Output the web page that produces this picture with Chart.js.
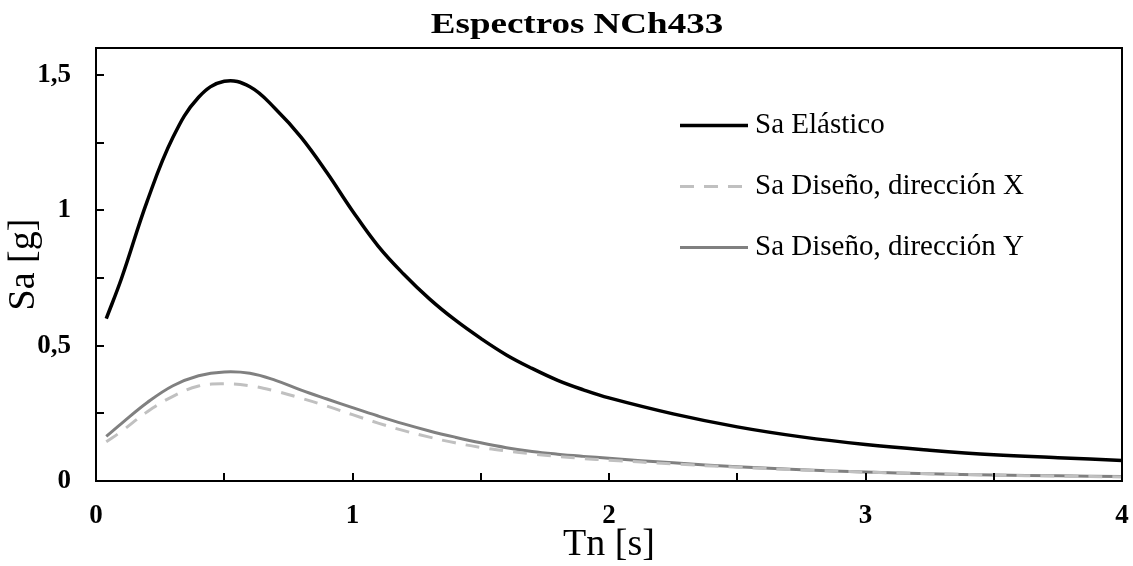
<!DOCTYPE html>
<html>
<head>
<meta charset="utf-8">
<title>Espectros NCh433</title>
<script src="https://cdn.jsdelivr.net/npm/chart.js@4.4.1/dist/chart.umd.min.js"></script>
<style>
  html, body { margin: 0; padding: 0; background: #fff; }
  #wrap { width: 1133px; height: 566px; }
</style>
</head>
<body>
<div id="wrap"><canvas id="chart" width="1133" height="566"></canvas></div>
<script>
// periods [s] and spectral accelerations [g]
const tn = [0.04, 0.1, 0.2, 0.3, 0.4, 0.5, 0.6, 0.7, 0.8, 0.9, 1.0, 1.1, 1.2, 1.3, 1.4, 1.5, 1.6, 1.7, 1.8, 1.9, 2.0, 2.25, 2.5, 2.75, 3.0, 3.25, 3.5, 3.75, 4.0];
const saElastico = [0.60, 0.75, 1.035, 1.27, 1.418, 1.477, 1.457, 1.375, 1.27, 1.14, 0.998, 0.868, 0.764, 0.673, 0.595, 0.527, 0.466, 0.416, 0.372, 0.337, 0.307, 0.248, 0.2, 0.163, 0.135, 0.114, 0.097, 0.086, 0.076];
const saDisenoX = [0.145, 0.184, 0.256, 0.313, 0.351, 0.359, 0.352, 0.332, 0.306, 0.277, 0.245, 0.214, 0.186, 0.162, 0.141, 0.124, 0.111, 0.1, 0.091, 0.083, 0.077, 0.063, 0.051, 0.041, 0.033, 0.027, 0.022, 0.018, 0.015];
const saDisenoY = [0.165, 0.213, 0.29, 0.352, 0.389, 0.403, 0.398, 0.372, 0.336, 0.303, 0.271, 0.24, 0.211, 0.185, 0.162, 0.141, 0.123, 0.109, 0.099, 0.091, 0.084, 0.067, 0.053, 0.042, 0.033, 0.027, 0.022, 0.019, 0.017];

const seriesNames = ["Sa Elástico", "Sa Diseño, dirección X", "Sa Diseño, dirección Y"];
const chartTitle = "Espectros NCh433";
const xTitle = "Tn [s]";
const yTitle = "Sa [g]";

const SERIF = "'Liberation Serif', 'Times New Roman', serif";
const pts = (arr)=>tn.map((t,i)=>({ x:t, y:arr[i] }));
const near = (v, step)=>Math.abs(v/step - Math.round(v/step)) < 1e-6;

// box around the plot + short inward tick marks
const frame = {
  id: "frame",
  afterDatasetsDraw(chart){
    const { ctx, chartArea:a, scales:{ x, y } } = chart;
    ctx.save();
    ctx.strokeStyle = "#000";
    ctx.lineWidth = 2;
    ctx.strokeRect(a.left, a.top, a.right - a.left, a.bottom - a.top);
    ctx.beginPath();
    x.ticks.forEach(t=>{
      const px = Math.round(x.getPixelForValue(t.value));
      ctx.moveTo(px, a.bottom); ctx.lineTo(px, a.bottom - 8);
    });
    y.ticks.forEach(t=>{
      const py = Math.round(y.getPixelForValue(t.value));
      ctx.moveTo(a.left, py); ctx.lineTo(a.left + 8, py);
    });
    ctx.stroke();
    ctx.restore();
  }
};

// legend sits inside the plot, upper right
const insideLegend = {
  id: "insideLegend",
  afterDraw(chart){
    const { ctx } = chart;
    ctx.save();
    ctx.font = "29px " + SERIF;
    ctx.textBaseline = "middle";
    ctx.fillStyle = "#000";
    chart.data.datasets.forEach((ds, i)=>{
      const yy = 125.5 + i*61;
      ctx.beginPath();
      ctx.strokeStyle = ds.borderColor;
      ctx.lineWidth = ds.borderWidth;
      ctx.setLineDash(ds.borderDash || []);
      ctx.moveTo(680, yy); ctx.lineTo(748, yy);
      ctx.stroke();
      ctx.setLineDash([]);
      ctx.fillText(ds.label, 755, yy);
    });
    ctx.restore();
  }
};

// wide bold title
const wideTitle = {
  id: "wideTitle",
  afterDraw(chart){
    const { ctx } = chart;
    ctx.save();
    ctx.font = "bold 30px " + SERIF;
    ctx.textAlign = "center";
    ctx.textBaseline = "alphabetic";
    ctx.fillStyle = "#000";
    ctx.translate(577, 32.5);
    ctx.scale(1.234, 1);
    ctx.fillText(chartTitle, 0, 0);
    ctx.restore();
  }
};

new Chart(document.getElementById("chart"), {
  type: "line",
  data: {
    datasets: [
      { label: seriesNames[0], data: pts(saElastico), borderColor: "#000000", borderWidth: 3.5 },
      { label: seriesNames[1], data: pts(saDisenoX), borderColor: "#c0c0c0", borderWidth: 3, borderDash: [14, 10] },
      { label: seriesNames[2], data: pts(saDisenoY), borderColor: "#808080", borderWidth: 3 }
    ]
  },
  options: {
    responsive: false,
    animation: false,
    events: [],
    layout: { padding: { top: 48, right: 11, left: 0, bottom: 0 } },
    elements: {
      point: { radius: 0 },
      line: { tension: 0.4, fill: false }
    },
    plugins: { legend: { display: false }, title: { display: false }, tooltip: { enabled: false } },
    scales: {
      x: {
        type: "linear", min: 0, max: 4,
        grid: { display: false, drawTicks: false },
        border: { display: false },
        ticks: {
          stepSize: 0.5, autoSkip: false, maxRotation: 0, padding: 19, color: "#000",
          font: { family: SERIF, size: 27, weight: "bold" },
          callback: (v)=>Number.isInteger(v) ? String(v) : ""
        },
        title: { display: true, text: xTitle, color: "#000", font: { family: SERIF, size: 38, lineHeight: 1 }, padding: { top: 0, bottom: 2 } },
        afterFit(scale){ scale.height = 85; scale.paddingLeft = 0; scale.paddingRight = 0; }
      },
      y: {
        min: 0, max: 1.6,
        grid: { display: false, drawTicks: false },
        border: { display: false },
        afterBuildTicks(scale){ scale.ticks = scale.ticks.filter(t=>near(t.value, 0.25)); },
        ticks: {
          stepSize: 0.25, includeBounds: false, autoSkip: false, padding: 25, color: "#000",
          font: { family: SERIF, size: 27, weight: "bold" },
          callback: (v)=>near(v, 0.5) ? String(Math.round(v*10)/10).replace(".", ",") : ""
        },
        title: { display: true, text: yTitle, color: "#000", font: { family: SERIF, size: 38, lineHeight: 1 }, padding: { top: 5, bottom: 0 } },
        afterFit(scale){ scale.width = 96; }
      }
    }
  },
  plugins: [frame, insideLegend, wideTitle]
});
</script>
</body>
</html>
